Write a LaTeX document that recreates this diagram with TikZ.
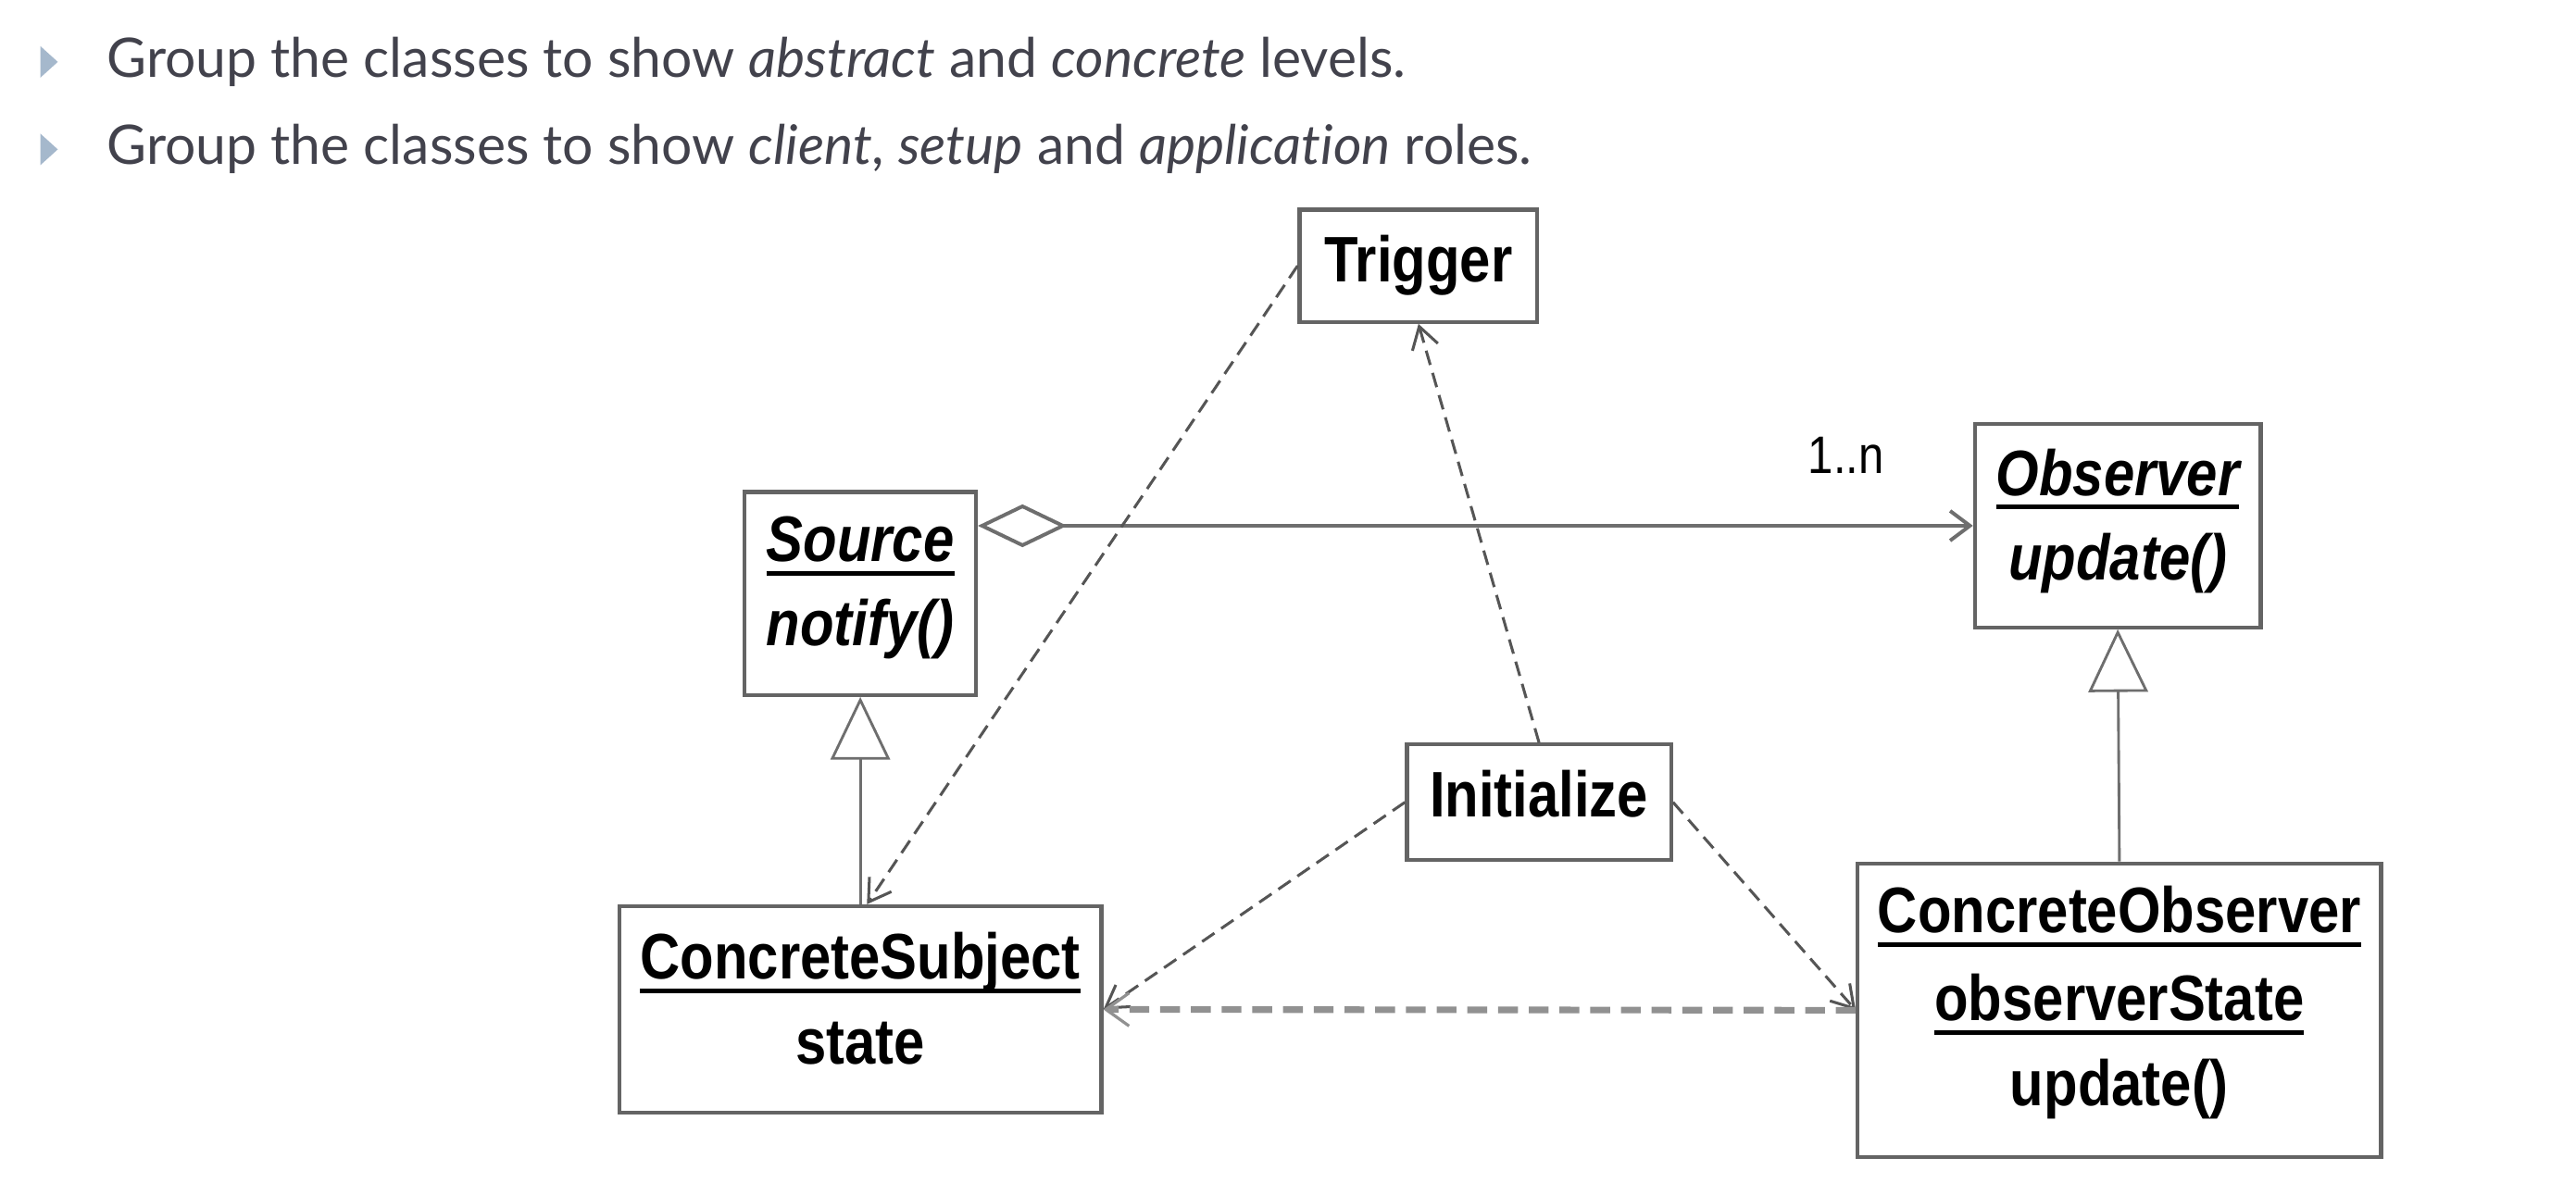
\documentclass[tikz,border=0pt]{standalone}
\usepackage{fontspec}
\usetikzlibrary{arrows.meta,fit}
\setmainfont{Liberation Sans}
\newfontfamily\umlfont[FakeStretch=0.86]{Liberation Sans}
\newfontfamily\bulfont[Ligatures={NoCommon}]{Lato}
\definecolor{txtgray}{RGB}{66,66,76}
\definecolor{bulletblue}{RGB}{165,184,204}
\definecolor{boxgray}{RGB}{100,100,100}
\definecolor{linegray}{RGB}{110,110,110}
\definecolor{dashgray}{RGB}{85,85,85}
\definecolor{thickgray}{RGB}{145,145,145}
\newcommand\umlul[1]{{\setbox0\hbox{#1}\hbox{\rlap{\vrule width\wd0 height -2.9pt depth 4.3pt}\box0}}}
\tikzset{
  umlbox/.style={draw=boxgray, line width=1.2pt, inner sep=0pt, fill=white},
  umltext/.style={anchor=base, inner sep=0pt, font=\umlfont\bfseries\fontsize{19.5}{22}\selectfont},
  multtext/.style={anchor=base, inner sep=0pt, font=\umlfont\fontsize{16}{18}\selectfont},
  bultext/.style={anchor=base west, inner sep=0pt, text=txtgray, font=\bulfont\fontsize{16.5}{18}\selectfont},
  bulmark/.style={fill=bulletblue, draw=none},
  generalize/.style={draw=linegray, line width=0.8pt, -{Triangle[open, length=19pt, width=18pt, fill=white]}},
  aggregate/.style={draw=linegray, line width=1.1pt, {Diamond[open, length=27pt, width=13pt, fill=white]}-{Straight Barb[length=6pt, width=9pt]}},
  depend/.style={draw=dashgray, line width=0.85pt, dash pattern=on 4.5pt off 2.5pt, -{Straight Barb[length=6.5pt, width=8pt]}},
  depthick/.style={draw=thickgray, line width=2pt, dash pattern=on 6pt off 3.3pt, -{Straight Barb[length=7pt, width=10pt, line width=0.9pt]}},
}
\begin{document}
\begin{tikzpicture}[x=0.5pt, y=-0.5pt]
\path[use as bounding box, fill=white] (0,0) rectangle (1560,716.6);
% bullets
\fill[bulmark] (24.5,28) -- (35,37.5) -- (24.5,47) -- cycle;
\fill[bulmark] (24.5,81) -- (35,90.5) -- (24.5,100) -- cycle;
\node[bultext] (b1) at (64.5,46.7) {Group the classes to show \textit{abstract} and \textit{concrete} levels.};
\node[bultext] (b2) at (64.5,99.8) {Group the classes to show \textit{client}, \textit{setup} and \textit{application} roles.};
\begin{scope}[xshift=-1pt]
% boxes
\node[umlbox, fit={(789,127) (933,195)}] (trigger) {};
\node[umlbox, fit={(453,298) (593,421)}] (source) {};
\node[umlbox, fit={(1198,257) (1371,380)}] (observer) {};
\node[umlbox, fit={(854,451) (1014,521)}] (init) {};
\node[umlbox, fit={(377,549) (669,674)}] (csubj) {};
\node[umlbox, fit={(1127,523) (1444,701)}] (cobs) {};
% texts
\node[umltext] (triggert) at (861,170.5) {Trigger};
\node[umltext] (sourcet) at (523,340) {\umlul{\itshape Source}};
\node[umltext] (sourcem) at (523,391) {\itshape notify()};
\node[umltext] (observert) at (1284.5,300) {\umlul{\itshape Observer}};
\node[umltext] (observerm) at (1284.5,351.5) {\itshape update()};
\node[umltext] (initt) at (934,495) {Initialize};
\node[umltext] (csubjt) at (523,593) {\umlul{ConcreteSubject}};
\node[umltext] (csubja) at (523,644.5) {state};
\node[umltext] (cobst) at (1285.5,565) {\umlul{ConcreteObserver}};
\node[umltext] (cobsa) at (1285.5,618.5) {\umlul{observerState}};
\node[umltext] (cobsm) at (1285.5,670) {update()};
\node[multtext] (mult) at (1120,287) {1..n};
% connectors
\draw[aggregate] (source.east |- observer.west) -- (observer.west);
\draw[generalize] (csubj.north) -- (source.south);
\draw[generalize] (cobs.north) -- (observer.south);
\draw[depend] (trigger.west) -- ([xshift=2]csubj.north);
\draw[depend] (init.north) -- (trigger.south);
\draw[depend] (init.west) -- (csubj.east);
\draw[depend] (init.east) -- (cobs.west);
\draw[depthick] (cobs.west) -- (csubj.east);
\end{scope}
\end{tikzpicture}
\end{document}
